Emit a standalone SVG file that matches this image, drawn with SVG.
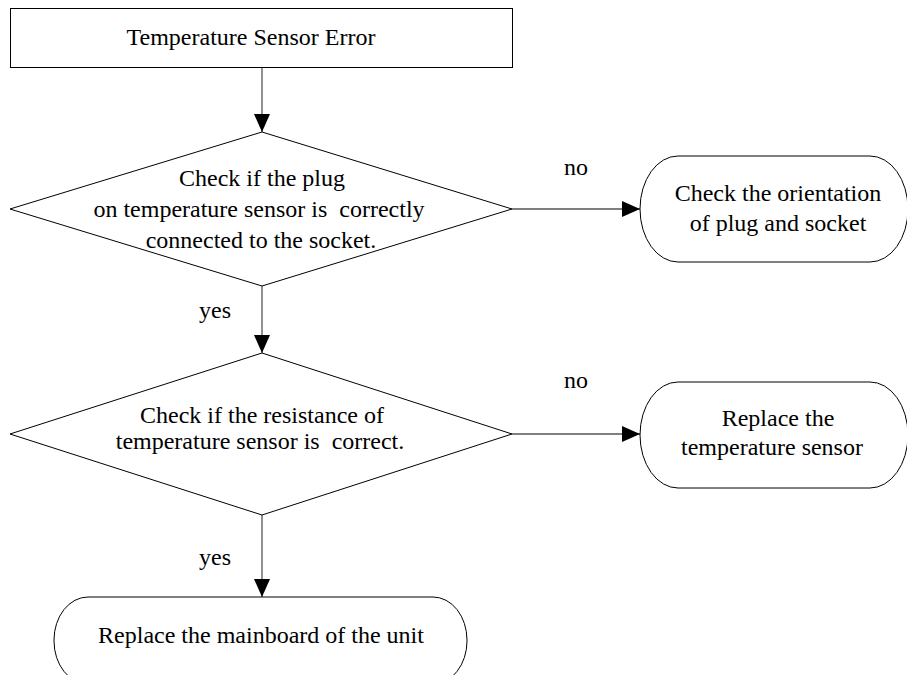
<svg xmlns="http://www.w3.org/2000/svg" width="907" height="675" viewBox="0 0 907 675" font-family="'Liberation Serif', 'Times New Roman', 'DejaVu Serif', serif">
<style>
  .shape { fill: #ffffff; stroke: #000000; stroke-width: 1; }
  .conn { fill: none; stroke: #555555; stroke-width: 1.3; }
  .t { font-family: 'Liberation Serif', 'Times New Roman', 'DejaVu Serif', serif; font-size: 24px; fill: #000000; text-anchor: middle; }
</style>
<defs>
  <marker id="arrow" viewBox="0 0 18 16" refX="18" refY="8" markerWidth="18" markerHeight="16" markerUnits="userSpaceOnUse" orient="auto">
    <path d="M0,0 L18,8 L0,16 Z" fill="#000000"/>
  </marker>
</defs>
<rect width="907" height="675" fill="#ffffff"/>

<g id="connectors">
  <line class="conn" x1="262" y1="67" x2="262" y2="132" marker-end="url(#arrow)"/>
  <line class="conn" x1="262" y1="286" x2="262" y2="353" marker-end="url(#arrow)"/>
  <line class="conn" x1="262" y1="515" x2="262" y2="597" marker-end="url(#arrow)"/>
  <line class="conn" x1="512" y1="209" x2="640" y2="209" marker-end="url(#arrow)"/>
  <line class="conn" x1="512" y1="434" x2="640" y2="434" marker-end="url(#arrow)"/>
  <text x="576" y="175" class="t">no</text>
  <text x="576" y="388" class="t">no</text>
  <text x="215" y="318" class="t">yes</text>
  <text x="215" y="565" class="t">yes</text>
</g>

<g id="start">
  <rect class="shape" x="10.5" y="8.5" width="502" height="59"/>
  <text x="251" y="45" class="t">Temperature Sensor Error</text>
</g>

<g id="check-plug">
  <polygon class="shape" points="262,132 512,209 262,286 10,209"/>
  <text x="262" y="186" class="t">Check if the plug</text>
  <text x="259" y="217" class="t" xml:space="preserve">on temperature sensor is  correctly</text>
  <text x="261" y="248" class="t">connected to the socket.</text>
</g>

<g id="check-orientation">
  <rect class="shape" x="640" y="156" width="268" height="106" rx="38" ry="53"/>
  <text x="778" y="201" class="t">Check the orientation</text>
  <text x="778" y="231" class="t">of plug and socket</text>
</g>

<g id="check-resistance">
  <polygon class="shape" points="262,353 512,434 262,515 10,434"/>
  <text x="262" y="423" class="t">Check if the resistance of</text>
  <text x="260" y="449" class="t" xml:space="preserve">temperature sensor is  correct.</text>
</g>

<g id="replace-sensor">
  <rect class="shape" x="640" y="382" width="268" height="106" rx="38" ry="53"/>
  <text x="778" y="426" class="t">Replace the</text>
  <text x="772" y="455" class="t">temperature sensor</text>
</g>

<g id="replace-mainboard">
  <rect class="shape" x="54" y="597" width="413" height="87" rx="34" ry="43"/>
  <text x="261" y="643" class="t">Replace the mainboard of the unit</text>
</g>
</svg>
